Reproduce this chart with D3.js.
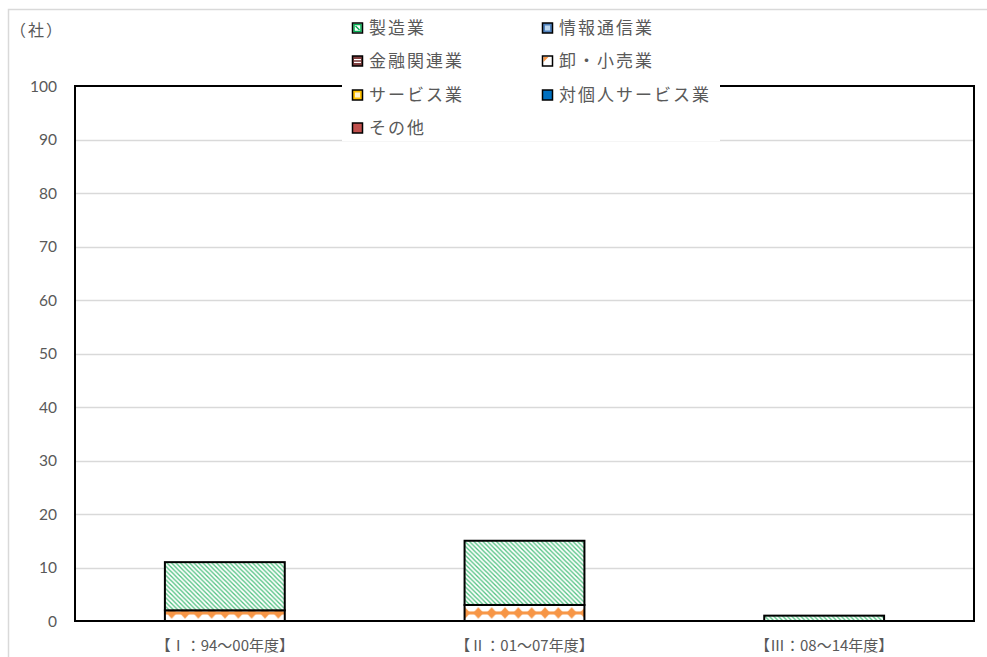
<!DOCTYPE html>
<html lang="ja">
<head>
<meta charset="utf-8">
<script src="https://cdn.jsdelivr.net/npm/d3@7"></script>
<style>
  html, body { margin: 0; padding: 0; background: #fff; }
  svg { display: block; }
  text { font-family: "Noto Sans CJK JP", "Noto Sans", sans-serif; fill: #595959; }
</style>
</head>
<body>
<svg id="chart" width="987" height="657"></svg>
<script>
// Periods on the x axis
const categories = ["【Ⅰ：94～00年度】", "【Ⅱ：01～07年度】", "【Ⅲ：08～14年度】"];

// Companies per industry (社)
const seriesNames = ["製造業", "情報通信業", "金融関連業", "卸・小売業", "サービス業", "対個人サービス業", "その他"];
const manufacturing = [9, 12, 1];
const infoComm      = [0, 0, 0];
const finance       = [0, 0, 0];
const retail        = [2, 3, 0];
const services      = [0, 0, 0];
const personalSvc   = [0, 0, 0];
const other         = [0, 0, 0];

const yTicks = [0, 10, 20, 30, 40, 50, 60, 70, 80, 90, 100];

const seriesValues = [manufacturing, infoComm, finance, retail, services, personalSvc, other];
const rows = categories.map((c, i) => {
  const r = { category: c };
  seriesNames.forEach((s, k) => { r[s] = seriesValues[k][i]; });
  return r;
});

const svg = d3.select("#chart");
const W = 987, H = 657;
const plot = { left: 75, right: 974, top: 86, bottom: 621 };

// ---- fills ----
const defs = svg.append("defs");

// green diagonal hatch
const pg = defs.append("pattern").attr("id", "p-mfg")
  .attr("patternUnits", "userSpaceOnUse").attr("width", 4.5).attr("height", 4.5);
pg.append("rect").attr("width", 4.5).attr("height", 4.5).attr("fill", "#fff");
pg.append("path").attr("d", "M-1,-1L5.5,5.5M-1,3.5L1,5.5M3.5,-1L5.5,1")
  .attr("stroke", "#3dbb74").attr("stroke-width", 1.3).attr("stroke-opacity", 0.9);

// orange diamond chain
const ps = 40 / 3;
const po = defs.append("pattern").attr("id", "p-retail")
  .attr("patternUnits", "userSpaceOnUse").attr("width", ps).attr("height", ps)
  .attr("x", 5).attr("y", 6.3);
po.append("rect").attr("width", ps).attr("height", ps).attr("fill", "#fff");
const c = ps / 2;
po.append("path").attr("d", `M0,${c}L${ps},${c}`).attr("stroke", "#f79646").attr("stroke-width", 3);
po.append("path").attr("d", `M${c},${c - 5.8}L${c + 5.2},${c}L${c},${c + 5.8}L${c - 5.2},${c}Z`)
  .attr("fill", "#f79646");

// light-blue / blue
const pi = defs.append("pattern").attr("id", "p-info")
  .attr("patternUnits", "userSpaceOnUse").attr("width", 4).attr("height", 4);
pi.append("rect").attr("width", 4).attr("height", 4).attr("fill", "#9dc3e6");
pi.append("rect").attr("width", 2).attr("height", 2).attr("fill", "#4f81bd");

// dark red stripes
const pf = defs.append("pattern").attr("id", "p-fin")
  .attr("patternUnits", "userSpaceOnUse").attr("width", 4).attr("height", 4);
pf.append("rect").attr("width", 4).attr("height", 4).attr("fill", "#7f3f3f");
pf.append("rect").attr("y", 2).attr("width", 4).attr("height", 1.5).attr("fill", "#fff");

// yellow checker
const pv = defs.append("pattern").attr("id", "p-svc")
  .attr("patternUnits", "userSpaceOnUse").attr("width", 4).attr("height", 4);
pv.append("rect").attr("width", 4).attr("height", 4).attr("fill", "#ffc000");
pv.append("rect").attr("width", 2).attr("height", 2).attr("fill", "#fff2cc");
pv.append("rect").attr("x", 2).attr("y", 2).attr("width", 2).attr("height", 2).attr("fill", "#fff2cc");

const fills = ["url(#p-mfg)", "url(#p-info)", "url(#p-fin)", "url(#p-retail)", "url(#p-svc)", "#0070c0", "#c0504d"];
const fillOf = d3.scaleOrdinal().domain(seriesNames).range(fills);

// ---- outer frame ----
svg.append("rect").attr("x", 8.5).attr("y", 9.5).attr("width", W + 10).attr("height", H + 10)
  .attr("fill", "#fff").attr("stroke", "#d9d9d9").attr("stroke-width", 1.5);

// ---- scales ----
const x = d3.scaleBand().domain(categories).range([plot.left, plot.right])
  .paddingInner(0.6).paddingOuter(0.3);
const y = d3.scaleLinear().domain([0, 100]).range([plot.bottom, plot.top]);

// gridlines
svg.append("g").selectAll("line").data(yTicks.filter(t => t > 0 && t < 100)).join("line")
  .attr("x1", plot.left).attr("x2", plot.right)
  .attr("y1", d => Math.round(y(d)) + 0.5).attr("y2", d => Math.round(y(d)) + 0.5)
  .attr("stroke", "#d9d9d9").attr("stroke-width", 1.3);

// y axis labels
const yAxis = d3.axisLeft(y).tickValues(yTicks).tickSize(0).tickPadding(0);
const gy = svg.append("g").attr("transform", `translate(57,0)`).call(yAxis);
gy.select(".domain").remove();
gy.selectAll("text").attr("font-size", 15.5).attr("fill", "#595959")
  .style("font-family", "Lato, 'Open Sans', sans-serif").attr("dy", "0.35em");

// x axis labels
const xAxis = d3.axisBottom(x).tickSize(0).tickPadding(0);
const gx = svg.append("g").attr("transform", `translate(0,${plot.bottom + 24})`).call(xAxis);
gx.select(".domain").remove();
gx.selectAll("text").attr("font-size", 15).attr("fill", "#595959").attr("dy", "0.4em")
  .style("font-family", "'Noto Sans CJK JP', sans-serif");

// ---- stacked bars ----
const stackKeys = seriesNames.slice().reverse();
const stacked = d3.stack().keys(stackKeys)(rows);
const gBars = svg.append("g");
stacked.forEach(layer => {
  gBars.append("g").selectAll("rect")
    .data(layer.filter(d => d[1] - d[0] > 0))
    .join("rect")
    .attr("x", d => x(d.data.category))
    .attr("width", x.bandwidth())
    .attr("y", d => y(d[1]))
    .attr("height", d => y(d[0]) - y(d[1]))
    .attr("fill", fillOf(layer.key))
    .attr("stroke", "#000").attr("stroke-width", 2);
});

// plot border
svg.append("rect").attr("x", plot.left).attr("y", plot.top)
  .attr("width", plot.right - plot.left).attr("height", plot.bottom - plot.top)
  .attr("fill", "none").attr("stroke", "#000").attr("stroke-width", 2);

// ---- legend ----
svg.append("rect").attr("x", 342).attr("y", 13).attr("width", 378).attr("height", 128).attr("fill", "#fff");

const legendCols = [352.5, 542.5];
const legendRows = [28, 61, 95, 128];
const gL = svg.append("g");
seriesNames.forEach((name, i) => {
  const cx = legendCols[i % 2], cy = legendRows[Math.floor(i / 2)];
  const g = gL.append("g").attr("transform", `translate(${cx},${cy})`);
  const s = 10;
  const sw = g.append("g").attr("transform", `translate(0,${-s / 2})`);
  if (name === "製造業") {
    sw.append("rect").attr("width", s).attr("height", s).attr("fill", "#fff");
    sw.append("rect").attr("x", 1.5).attr("y", 1.5).attr("width", s - 3).attr("height", s - 3)
      .attr("fill", "#fff").attr("stroke", "#00b050").attr("stroke-width", 1.5);
    sw.append("path").attr("d", `M3,3L${s - 3},${s - 3}`).attr("stroke", "#00b050").attr("stroke-width", 1.5);
  } else if (name === "情報通信業") {
    sw.append("rect").attr("width", s).attr("height", s).attr("fill", "#4f81bd");
    sw.append("rect").attr("x", 2.5).attr("y", 2.5).attr("width", s - 5).attr("height", s - 5).attr("fill", "#bdd7ee");
  } else if (name === "金融関連業") {
    sw.append("rect").attr("width", s).attr("height", s).attr("fill", "#7f3f3f");
    sw.append("rect").attr("x", 1.5).attr("y", 3).attr("width", s - 3).attr("height", 1.2).attr("fill", "#fff");
    sw.append("rect").attr("x", 1.5).attr("y", 5.8).attr("width", s - 3).attr("height", 1.2).attr("fill", "#fff");
  } else if (name === "卸・小売業") {
    sw.append("rect").attr("width", s).attr("height", s).attr("fill", "#fff");
    sw.append("path").attr("d", "M1,1L6,1L1,6Z").attr("fill", "#f79646");
  } else if (name === "サービス業") {
    sw.append("rect").attr("width", s).attr("height", s).attr("fill", "#ffc000");
    sw.append("rect").attr("x", 2.5).attr("y", 2.5).attr("width", s - 5).attr("height", s - 5).attr("fill", "#fff2cc");
  } else {
    sw.append("rect").attr("width", s).attr("height", s).attr("fill", fillOf(name));
  }
  sw.append("rect").attr("width", s).attr("height", s).attr("fill", "none")
    .attr("stroke", "#000").attr("stroke-width", 1.5);
  g.append("text").attr("x", 16.5).attr("y", 0).attr("dy", "0.36em")
    .attr("font-size", 17).attr("letter-spacing", 2).text(name);
});

// unit label
svg.append("text").attr("x", 10).attr("y", 30).attr("dy", "0.36em")
  .attr("font-size", 16).attr("letter-spacing", 2).text("（社）");
</script>
</body>
</html>
